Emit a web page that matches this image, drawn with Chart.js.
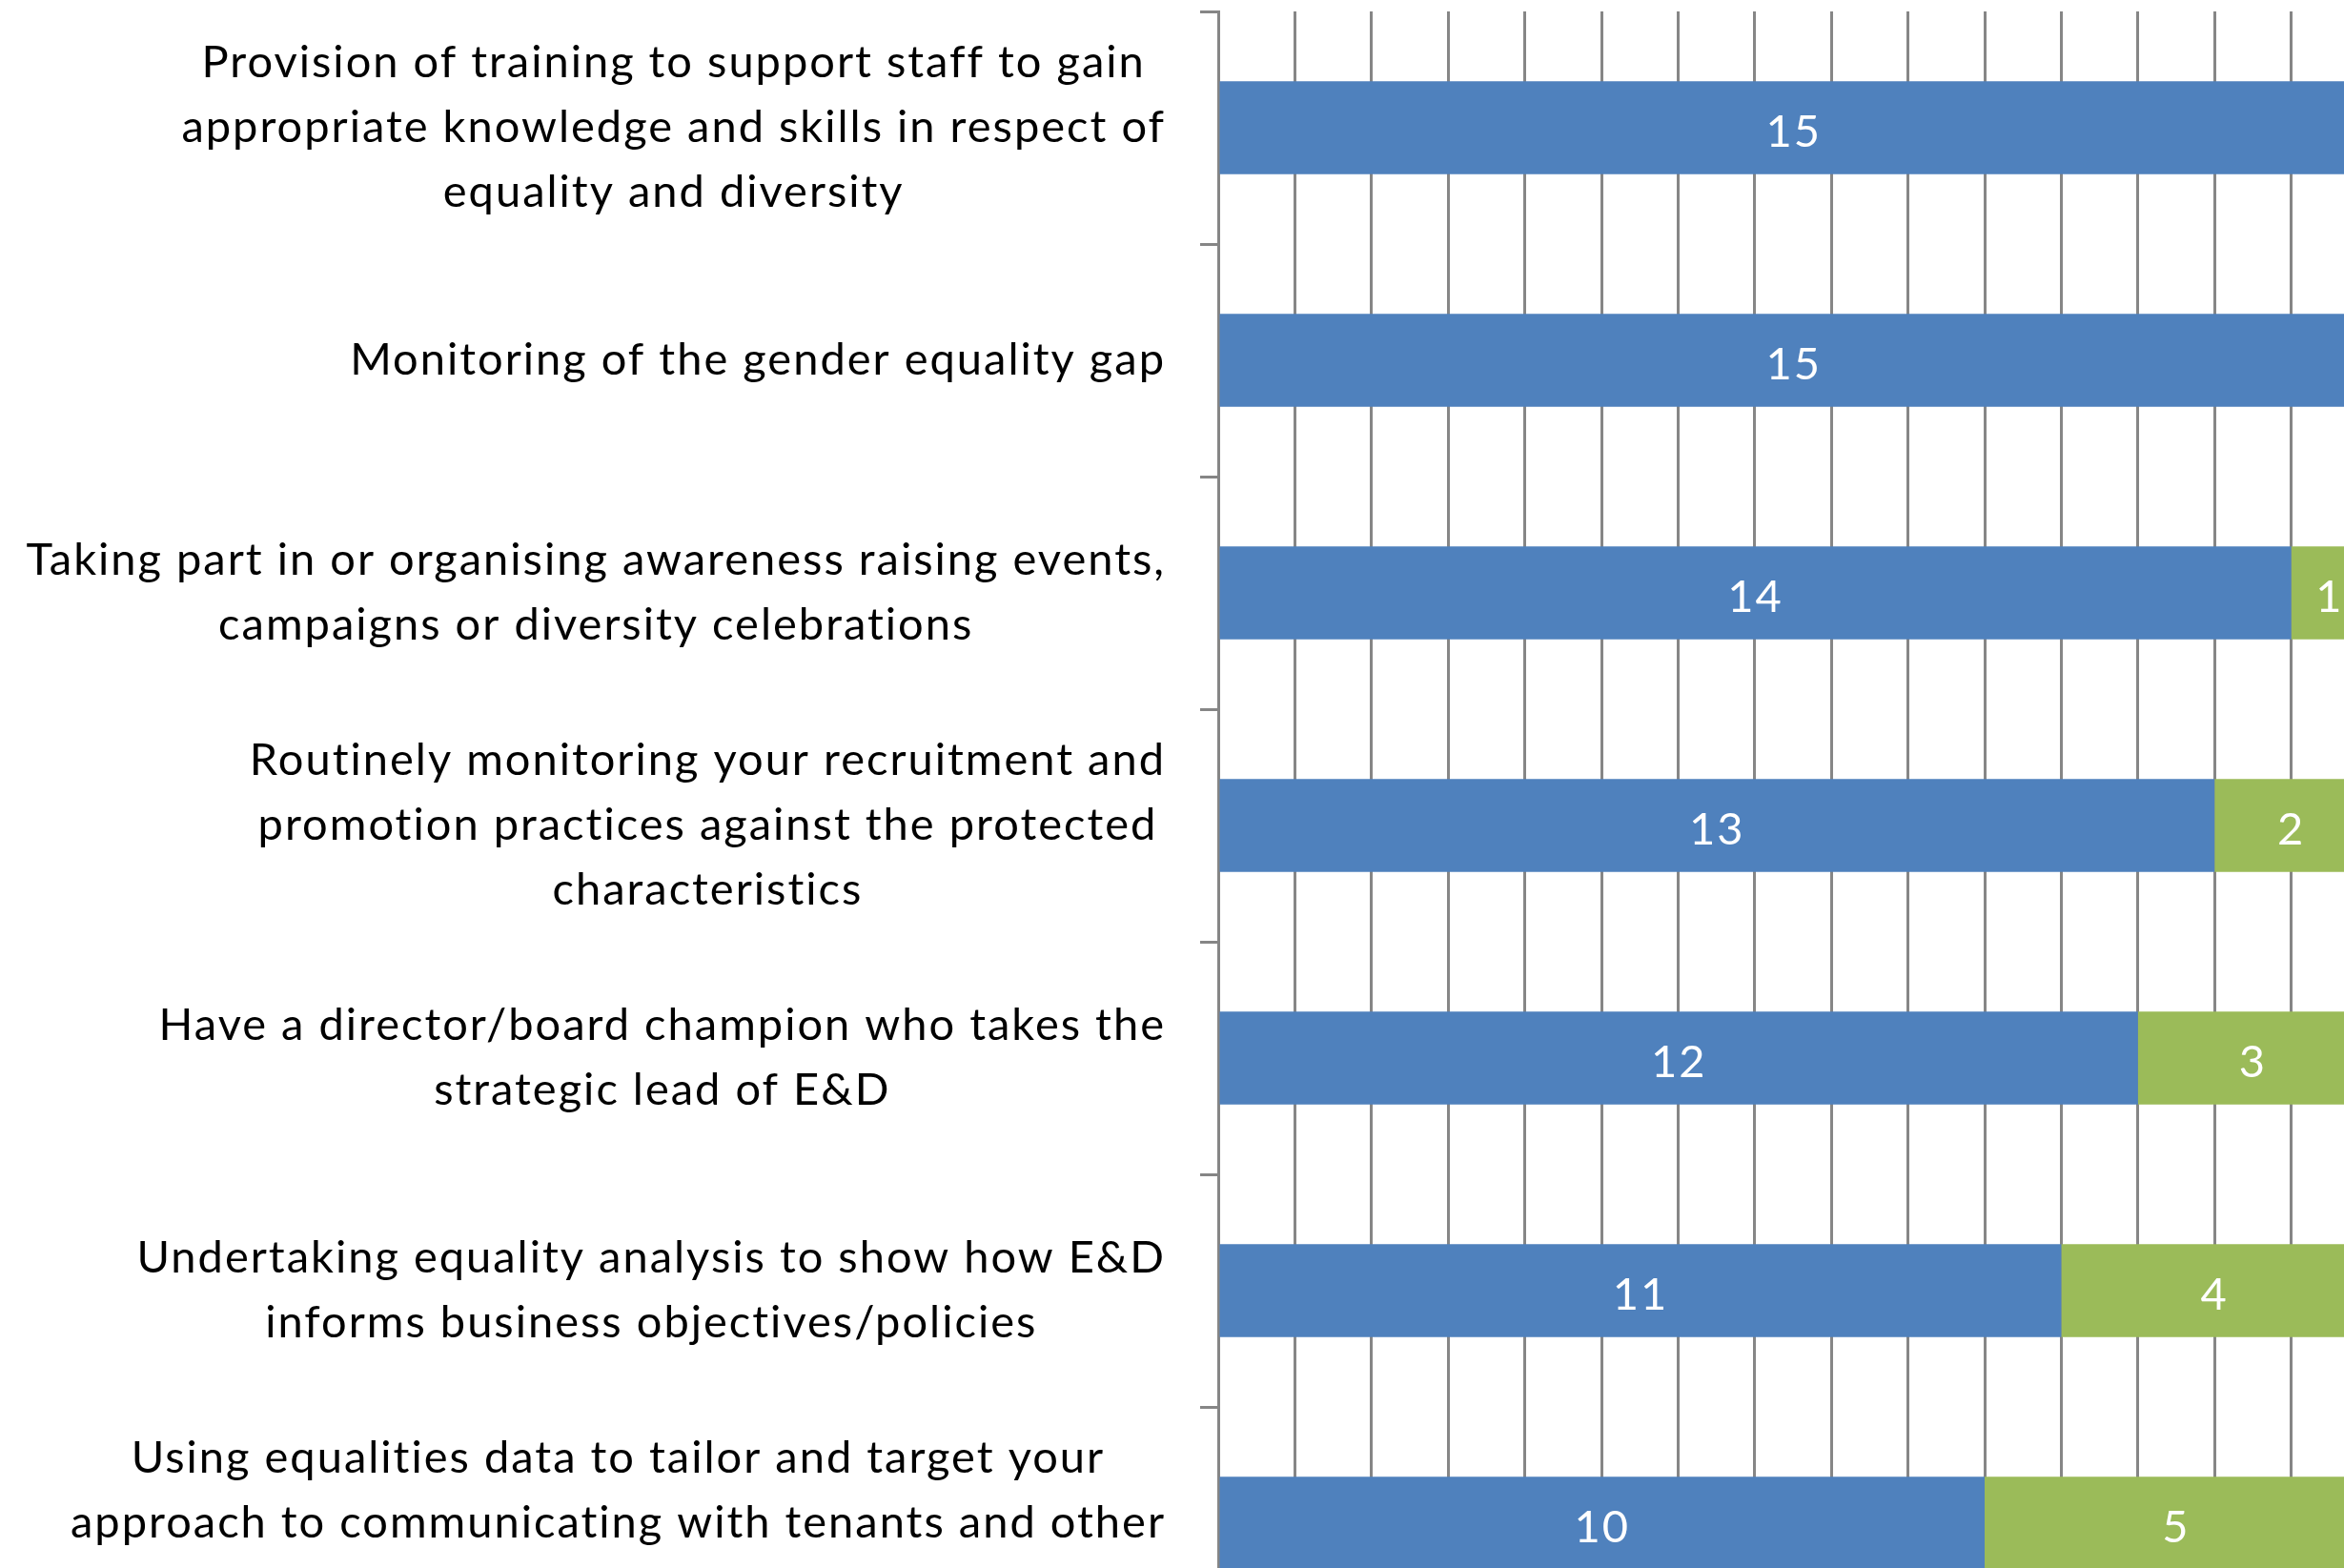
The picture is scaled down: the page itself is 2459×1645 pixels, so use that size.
<!DOCTYPE html>
<html>
<head>
<meta charset="utf-8">
<script src="https://cdn.jsdelivr.net/npm/chart.js@4"></script>
<style>
  html, body { margin: 0; padding: 0; background: #ffffff; overflow: hidden; }
  #wrap { width: 2560px; height: 1780px; }
</style>
</head>
<body>
<div id="wrap"><canvas id="c" width="2560" height="1780"></canvas></div>
<script>
const categories = [
  ["Provision of training to support staff to gain", "appropriate knowledge and skills in respect of", "equality and diversity"],
  ["Monitoring of the gender equality gap"],
  ["Taking part in or organising awareness raising events,", "campaigns or diversity celebrations"],
  ["Routinely monitoring your recruitment and", "promotion practices against the protected", "characteristics"],
  ["Have a director/board champion who takes the", "strategic lead of E&D"],
  ["Undertaking equality analysis to show how E&D", "informs business objectives/policies"],
  ["Using equalities data to tailor and target your", "approach to communicating with tenants and other", "stakeholders"]
];
const seriesBlue = [15, 15, 14, 13, 12, 11, 10];
const seriesGreen = [0, 0, 1, 2, 3, 4, 5];
const xTicksMax = 15;

const FONT = "Lato, 'Open Sans', sans-serif";
const FONT_SIZE = 47;
const LETTER_SPACING = '2px';

const labelPlugin = {
  id: 'catLabels',
  afterDraw(chart) {
    const ctx = chart.ctx;
    const ys = chart.scales.y;
    const right = chart.chartArea.left - 55;
    const lh = 68;
    ctx.save();
    ctx.font = FONT_SIZE + 'px ' + FONT;
    ctx.letterSpacing = LETTER_SPACING;
    ctx.fillStyle = '#000000';
    ctx.textBaseline = 'middle';
    ctx.textAlign = 'center';
    categories.forEach((lines, i) => {
      const y = ys.getPixelForValue(i);
      let w = 0;
      lines.forEach(l => { w = Math.max(w, ctx.measureText(l).width); });
      const cx = right - w / 2;
      const y0 = y - (lines.length - 1) * lh / 2;
      lines.forEach((l, k) => ctx.fillText(l, cx, y0 + k * lh));
    });
    ctx.restore();
  }
};

const valuePlugin = {
  id: 'valueLabels',
  afterDatasetsDraw(chart) {
    const ctx = chart.ctx;
    ctx.save();
    ctx.font = FONT_SIZE + 'px ' + FONT;
    ctx.letterSpacing = LETTER_SPACING;
    ctx.fillStyle = '#ffffff';
    ctx.textAlign = 'center';
    ctx.textBaseline = 'middle';
    chart.data.datasets.forEach((ds, di) => {
      const meta = chart.getDatasetMeta(di);
      meta.data.forEach((el, i) => {
        const v = ds.data[i];
        if (!v) return;
        ctx.fillText(String(v), (el.x + el.base) / 2, el.y + 5);
      });
    });
    ctx.restore();
  }
};

new Chart(document.getElementById('c'), {
  type: 'bar',
  data: {
    labels: categories,
    datasets: [
      { label: 'Blue', data: seriesBlue, backgroundColor: '#4F81BD', barPercentage: 0.4, categoryPercentage: 1.0 },
      { label: 'Green', data: seriesGreen, backgroundColor: '#9BBB59', barPercentage: 0.4, categoryPercentage: 1.0 }
    ]
  },
  options: {
    indexAxis: 'y',
    responsive: false,
    animation: false,
    layout: { padding: { top: 12, right: 76, left: 0, bottom: 0 } },
    plugins: { legend: { display: false }, tooltip: { enabled: false } },
    scales: {
      x: {
        stacked: true,
        min: 0,
        max: xTicksMax,
        ticks: { stepSize: 1, font: { family: FONT, size: FONT_SIZE }, color: '#000' },
        grid: { color: '#868686', lineWidth: 3, drawTicks: false },
        border: { display: false },
        afterFit(s) { s.height = 60; }
      },
      y: {
        stacked: true,
        offset: true,
        ticks: { display: false },
        grid: { offset: true, drawOnChartArea: false, drawTicks: true, tickLength: 19, color: '#868686', lineWidth: 3 },
        border: { display: true, color: '#868686', width: 3 },
        afterFit(s) { s.width = 1278; }
      }
    }
  },
  plugins: [labelPlugin, valuePlugin]
});
</script>
</body>
</html>
